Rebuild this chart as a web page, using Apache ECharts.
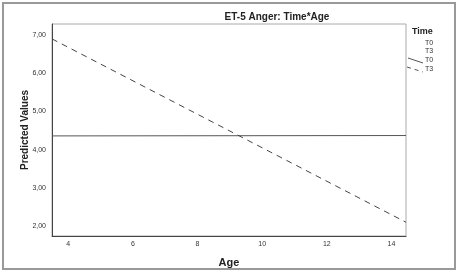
<!DOCTYPE html>
<html>
<head>
<meta charset="utf-8">
<script src="https://cdn.jsdelivr.net/npm/echarts@6/dist/echarts.min.js"></script>
<style>
html, body { margin: 0; padding: 0; background: #fff; }
#chart { width: 459px; height: 273px; }
</style>
</head>
<body>
<div id="chart"></div>
<script>
// estimated predicted values at the two ends of the age range
var ages = [3.5, 14.45];
var t0Values = [4.36, 4.37];
var t3Values = [6.90, 2.10];
var xTicks = [4, 6, 8, 10, 12, 14];
var yTicks = [2, 3, 4, 5, 6, 7];

var chart = echarts.init(document.getElementById("chart"));

function pairs(xs, ys) {
  return xs.map(function (x, i) { return [x, ys[i]]; });
}

var option = {
  animation: false,
  textStyle: { fontFamily: "Liberation Sans, Arial, sans-serif" },
  title: {
    text: "ET-5 Anger: Time*Age",
    left: 272,
    top: 7,
    textAlign: "center",
    textStyle: { fontSize: 10, fontWeight: "bold", color: "#222" }
  },
  grid: {
    left: 52,
    right: 53,
    top: 24,
    bottom: 37,
    show: true,
    borderColor: "#aaa",
    borderWidth: 1
  },
  xAxis: {
    type: "value",
    min: 3.5,
    max: 14.45,
    name: "Age",
    nameLocation: "middle",
    nameGap: 21,
    nameTextStyle: { fontSize: 11, fontWeight: "bold", color: "#222" },
    axisLine: { show: true, lineStyle: { color: "#444", width: 1 } },
    axisTick: { show: false },
    splitLine: { show: false },
    axisLabel: {
      customValues: xTicks,
      fontSize: 7,
      color: "#333",
      margin: 5
    }
  },
  yAxis: {
    type: "value",
    min: 1.74,
    max: 7.29,
    name: "Predicted Values",
    nameLocation: "middle",
    nameGap: 22,
    nameMoveOverlap: false,
    nameTextStyle: { fontSize: 10, fontWeight: "bold", color: "#222" },
    axisLine: { show: true, lineStyle: { color: "#444", width: 1 } },
    axisTick: { show: false },
    splitLine: { show: false },
    axisLabel: {
      customValues: yTicks,
      fontSize: 7,
      color: "#333",
      margin: 6,
      formatter: function (v) { return v.toFixed(2).replace(".", ","); }
    }
  },
  series: [
    {
      name: "T0",
      type: "line",
      data: pairs(ages, t0Values),
      showSymbol: false,
      lineStyle: { color: "#555", width: 1 }
    },
    {
      name: "T3",
      type: "line",
      data: pairs(ages, t3Values),
      showSymbol: false,
      lineStyle: { color: "#444", width: 1, type: [6, 5] }
    }
  ],
  graphic: [
    {
      type: "rect",
      shape: { x: 3, y: 3, width: 452, height: 266 },
      style: { fill: "none", stroke: "#999", lineWidth: 2 },
      silent: true
    },
    { type: "text", left: 412, top: 27, style: { text: "Time", font: "bold 9px Liberation Sans", fill: "#222" } },
    { type: "text", left: 425, top: 40, style: { text: "T0", font: "7px Liberation Sans", fill: "#333" } },
    { type: "text", left: 425, top: 48, style: { text: "T3", font: "7px Liberation Sans", fill: "#333" } },
    { type: "text", left: 425, top: 57, style: { text: "T0", font: "7px Liberation Sans", fill: "#333" } },
    { type: "text", left: 425, top: 66, style: { text: "T3", font: "7px Liberation Sans", fill: "#333" } },
    {
      type: "line",
      shape: { x1: 408, y1: 58, x2: 423, y2: 63 },
      style: { stroke: "#555", lineWidth: 1 }
    },
    {
      type: "line",
      shape: { x1: 407, y1: 67, x2: 423, y2: 72 },
      style: { stroke: "#555", lineWidth: 1, lineDash: [4, 4] }
    }
  ]
};

chart.setOption(option);
</script>
</body>
</html>
